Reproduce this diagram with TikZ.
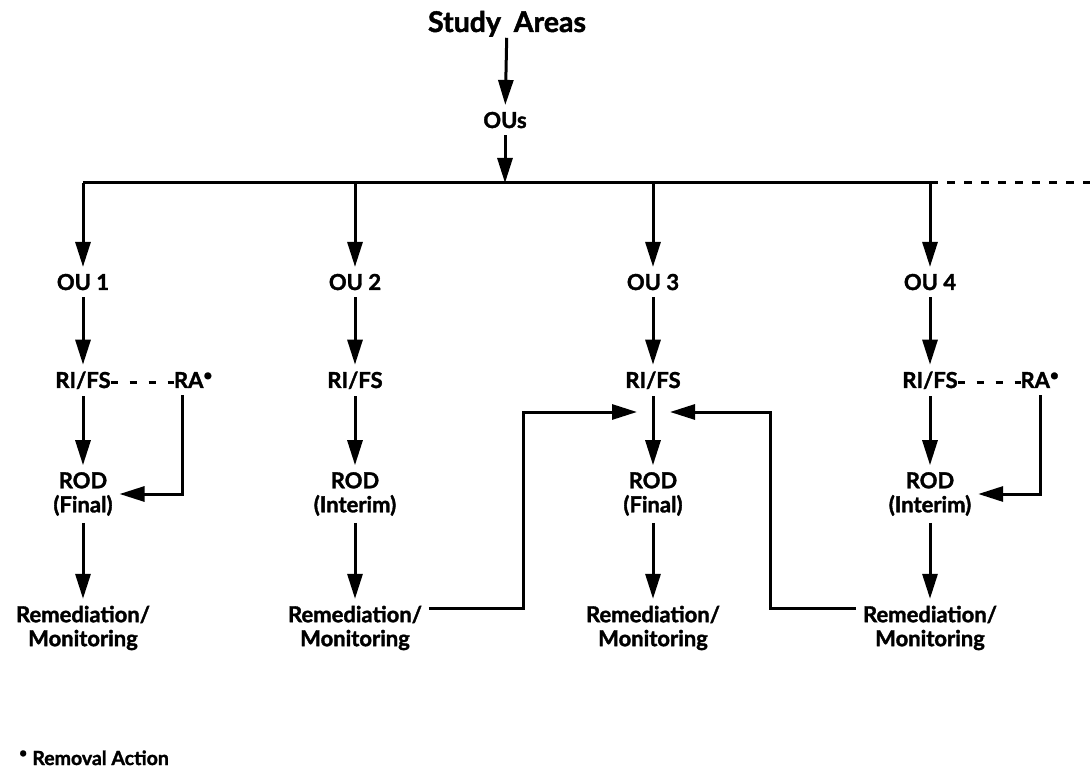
\documentclass[tikz,border=0pt]{standalone}
\usepackage{fontspec}
\setmainfont{Lato}[BoldFeatures={FakeBold=1.6}]
\usetikzlibrary{arrows.meta}

\begin{document}
\begin{tikzpicture}[x=1pt,y=-1pt,
  lbl/.style={font=\bfseries\fontsize{22}{24}\selectfont, inner sep=3pt, outer sep=4pt, align=center},
  ln/.style={line width=3pt},
  arr/.style={ln, -{Triangle[length=25pt,width=15pt]}},
  hyph/.style={line width=3pt, dash pattern=on 7pt off 12pt, shorten <=-7pt, shorten >=-7pt},
  dots/.style={line width=3pt, dash pattern=on 8pt off 9pt}
]
\useasboundingbox (0,0) rectangle (1090,767);

% top of the tree
\node[lbl, anchor=base, font=\bfseries\fontsize{28.5}{30}\selectfont] (study) at (507,32) {Study\hspace{0.45em}Areas};
\node[lbl, anchor=base] (ous) at (505,128) {OUs};

% distribution bus
\coordinate (b1) at (83,183);
\coordinate (b2) at (355,183);
\coordinate (b3) at (653,183);
\coordinate (b4) at (930,183);
\coordinate (bmid) at (505,183);
\coordinate (bend) at (1090,183);

\draw[arr, shorten <=-6pt] (study) -- (ous);
\draw[arr] (ous) -- (bmid);
\draw[ln] (b1) -- (b4);
\draw[dots] (b4) -- (bend);

% operable units
\foreach \i/\x in {1/83, 2/355, 3/653, 4/930}{
  \node[lbl, anchor=base] (ou\i) at (\x,290) {OU \i};
  \node[lbl, anchor=base] (rifs\i) at (\x,388) {RI/FS};
  \draw[arr] (b\i) -- (ou\i);
  \draw[arr] (ou\i) -- (rifs\i);
}

% removal actions
\node[lbl, anchor=base west] (ra1) at (167,388) {RA\textsuperscript{•}};
\node[lbl, anchor=base west] (ra4) at (1013.5,388) {RA\textsuperscript{•}};
\draw[hyph] ([yshift=6pt]rifs1.base east) -- ([yshift=6pt]ra1.base west);
\draw[hyph] ([yshift=6pt]rifs4.base east) -- ([yshift=6pt]ra4.base west);

% records of decision
\node[lbl] (rod1) at (83,494) {ROD\\(Final)};
\node[lbl] (rod2) at (355,494) {ROD\\(Interim)};
\node[lbl] (rod3) at (653,494) {ROD\\(Final)};
\node[lbl] (rod4) at (930,494) {ROD\\(Interim)};

% remediation
\foreach \i/\x in {1/83, 2/355, 3/653, 4/930}{
  \node[lbl] (rem\i) at (\x,628) {Remediation/\\Monitoring};
  \draw[arr] (rod\i) -- (rem\i);
}
\draw[arr] (rifs1) -- (rod1);
\draw[arr] (rifs2) -- (rod2);
\draw[arr] (rifs3) -- (rod3);
\draw[arr] (rifs4) -- (rod4);

\draw[arr] ([xshift=15pt]ra1.south west) |- (rod1.east);
\draw[arr] ([xshift=27pt]ra4.south west) |- (rod4.east);

% feedback into OU 3
\coordinate (in3w) at (637,412);
\coordinate (in3e) at (670,412);
\draw[arr] ([yshift=20pt]rem2.east) -| (523,412) -- (in3w);
\draw[arr] ([yshift=20pt]rem4.west) -| (770,412) -- (in3e);

% footnote
\node[anchor=base west, inner sep=0pt, font=\bfseries\fontsize{19.5}{21}\selectfont] (note) at (19,765) {\textsuperscript{•} Removal Action};
\end{tikzpicture}
\end{document}
